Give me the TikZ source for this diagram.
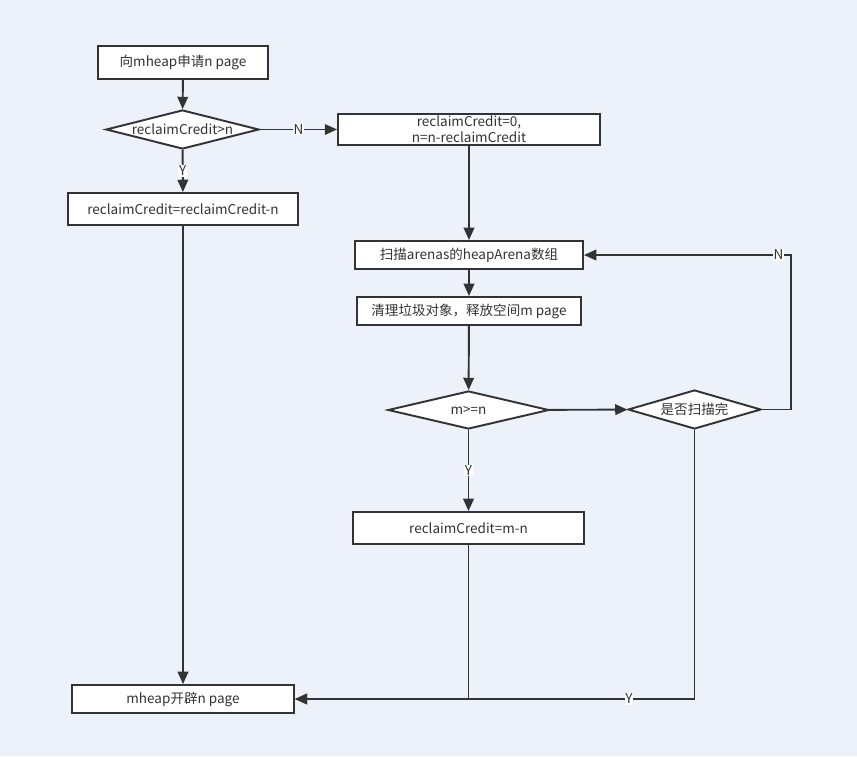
\documentclass[tikz,border=0pt]{standalone}
\usepackage{fontspec}
\setmainfont{Noto Sans CJK SC}
\usetikzlibrary{shapes.geometric,arrows.meta}
\definecolor{bgblue}{HTML}{EDF2FA}
\definecolor{linegray}{HTML}{333333}
\tikzset{
  box/.style={draw=linegray,fill=white,rectangle,line width=1.1pt,inner sep=1pt,align=center},
  cond/.style={draw=linegray,fill=white,diamond,aspect=4,inner sep=0pt,line width=1.1pt},
  flow/.style={draw=linegray,line width=1.1pt,-{Triangle[length=7pt,width=6pt]}},
  lab/.style={fill=white,inner sep=0.5pt}
}
\begin{document}
\begin{tikzpicture}[x=0.02cm,y=-0.02cm,every node/.style={font=\fontsize{7.7}{9}\selectfont,text=linegray}]
\fill[bgblue] (0,0) rectangle (857,756);
\useasboundingbox (0,0) rectangle (857,756);

% left column
\node[box,minimum width=3.4cm,minimum height=0.66cm] (req) at (183,62.5) {向mheap申请n page};
\node[cond,minimum width=3.06cm,minimum height=0.78cm] (chk) at (182.5,129.5) {reclaimCredit>n};
\node[box,minimum width=4.6cm,minimum height=0.64cm] (sub) at (183,209) {reclaimCredit=reclaimCredit-n};
\node[box,minimum width=4.44cm,minimum height=0.56cm] (alloc) at (183,699) {mheap开辟n page};

% right column
\node[box,minimum width=5.24cm,minimum height=0.62cm] (reset) at (469,129.5) {reclaimCredit=0,\\ n=n-reclaimCredit};
\node[box,minimum width=4.56cm,minimum height=0.56cm] (scan) at (469,255) {扫描arenas的heapArena数组};
\node[box,minimum width=4.48cm,minimum height=0.56cm] (sweep) at (469,311) {清理垃圾对象，释放空间m page};
\node[cond,minimum width=3.22cm,minimum height=0.76cm] (enough) at (468.5,410) {m>=n};
\node[cond,minimum width=2.66cm,minimum height=0.78cm] (done) at (694.5,409.5) {是否扫描完};
\node[box,minimum width=4.62cm,minimum height=0.64cm] (set) at (468.5,528) {reclaimCredit=m-n};

\coordinate (back) at (791,255);
\coordinate (bend) at (694.5,699);

\draw[flow] (req) -- (chk);
\draw[flow] (chk) -- node[lab]{N} (reset);
\draw[flow] (chk) -- node[lab]{Y} (sub);
\draw[flow] (sub) -- (alloc);
\draw[flow] (reset) -- (scan);
\draw[flow] (scan) -- (sweep);
\draw[flow] (sweep) -- (enough);
\draw[flow] (enough) -- (done);
\draw[flow] (enough) -- node[lab]{Y} (set);
\draw[flow] (done.east) -| (back) -- node[lab,pos=0.06]{N} (scan.east);
\draw[flow] (set.south) |- (alloc.east);
\draw[flow] (done.south) -- (bend) -- node[lab,pos=0.164]{Y} (alloc.east);
\end{tikzpicture}
\end{document}
